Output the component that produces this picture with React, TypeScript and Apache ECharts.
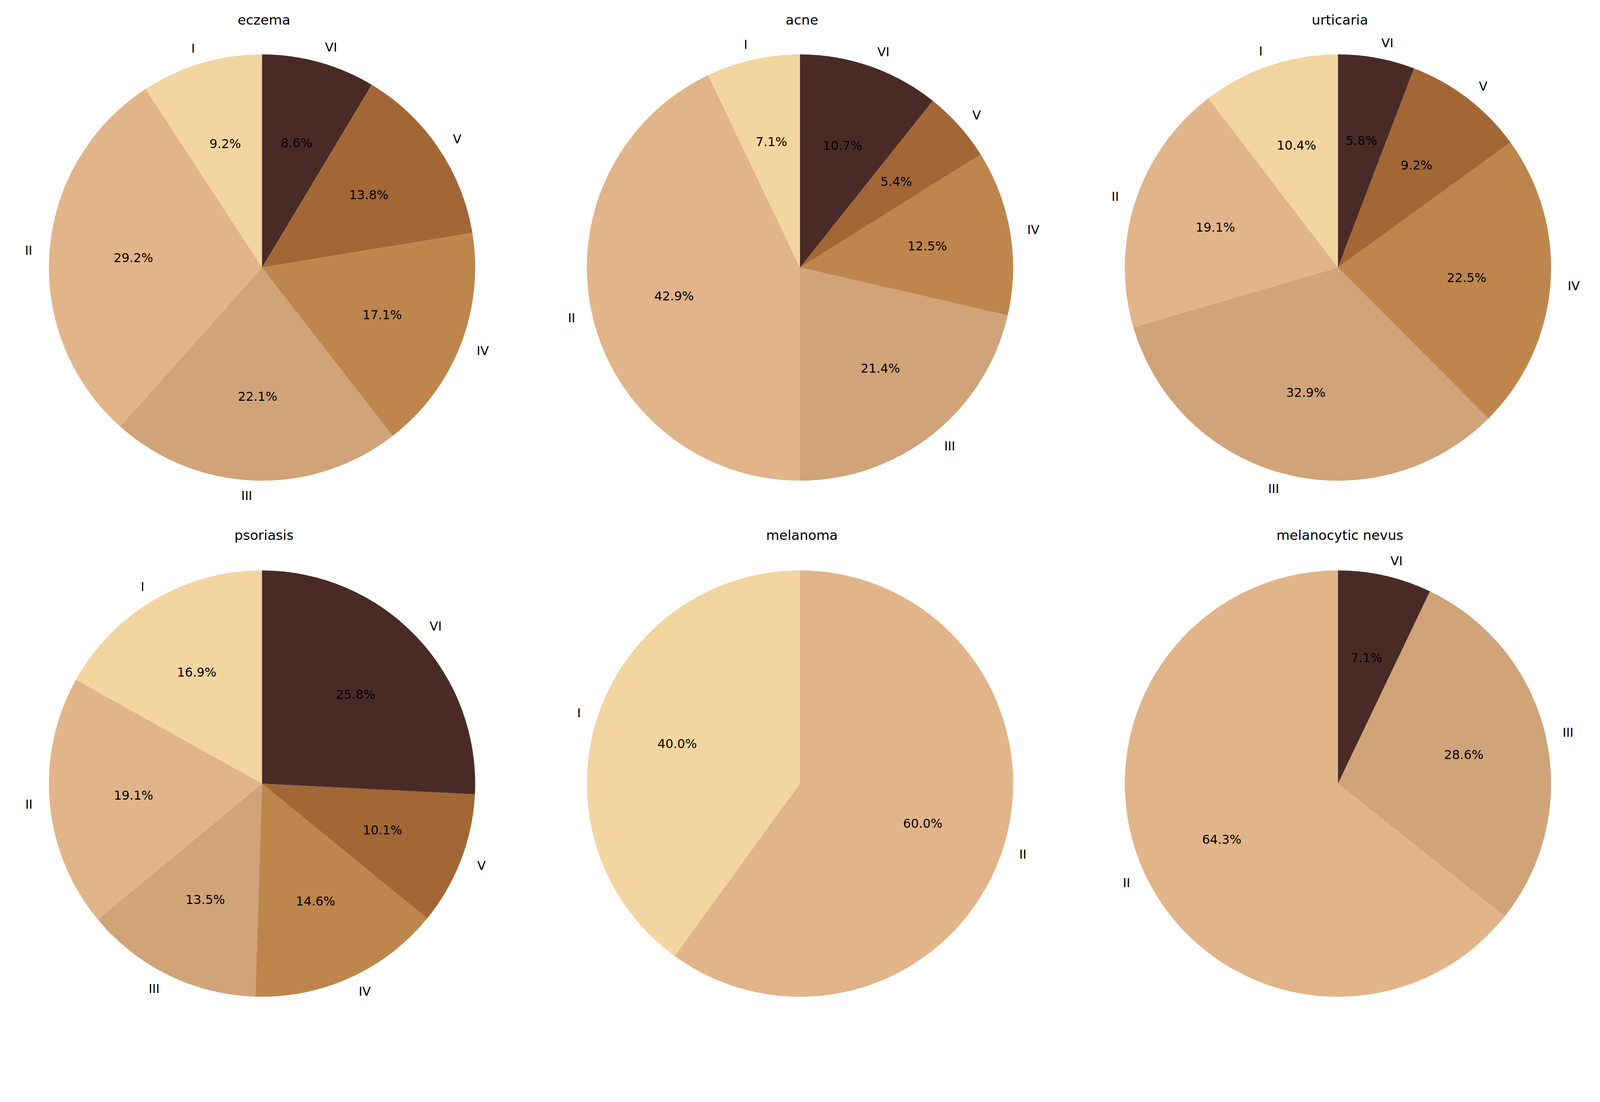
import React, { useEffect, useRef } from 'react';
import * as echarts from 'echarts';

const types = ['I', 'II', 'III', 'IV', 'V', 'VI'];
const colors = ['#F3D5A0', '#E2B489', '#D1A378', '#BE864D', '#A26735', '#4A2A26'];
const diseases = ['eczema', 'acne', 'urticaria', 'psoriasis', 'melanoma', 'melanocytic nevus'];
const eczema = [9.2, 29.2, 22.1, 17.1, 13.8, 8.6];
const acne = [7.1, 42.9, 21.4, 12.5, 5.4, 10.7];
const urticaria = [10.4, 19.1, 32.9, 22.5, 9.2, 5.8];
const psoriasis = [16.9, 19.1, 13.5, 14.6, 10.1, 25.8];
const melanoma = [40.0, 60.0, 0, 0, 0, 0];
const nevus = [0, 64.3, 28.6, 0, 0, 7.1];
const values = [eczema, acne, urticaria, psoriasis, melanoma, nevus];

const W = 4384;
const R = 584;
const colX = [718, 2192, 3666];
const rowY = [733, 2147];
const titleY = [30, 1442];

export default function App() {
    const chartRef = useRef<HTMLDivElement>(null);

    useEffect(() => {
        document.body.style.margin = '0';
        if (!chartRef.current) return;
        const chart = echarts.init(chartRef.current, undefined, { renderer: 'svg' });
        // scale everything to the real viewport width
        const k = chartRef.current.clientWidth / W;

        const series: any[] = [];
        const titles: any[] = [];
        values.forEach((vals, i) => {
            const cx = colX[i % 3] * k;
            const cy = rowY[Math.floor(i / 3)] * k;
            const data = vals
                .map((v, j) => ({ name: types[j], value: v, itemStyle: { color: colors[j] } }))
                .filter(d => d.value > 0);
            titles.push({
                text: diseases[i],
                left: cx,
                top: titleY[Math.floor(i / 3)] * k,
                textAlign: 'center',
                textStyle: { fontFamily: 'DejaVu Sans', fontSize: 37 * k, fontWeight: 'normal', color: '#000' }
            });
            series.push({
                type: 'pie',
                center: [cx, cy],
                radius: [0, R * k],
                startAngle: 90,
                clockwise: false,
                avoidLabelOverlap: false,
                silent: true,
                data,
                label: {
                    show: true,
                    position: 'outside',
                    formatter: '{b}',
                    fontFamily: 'DejaVu Sans',
                    fontSize: 34 * k,
                    color: '#000'
                },
                labelLine: { show: false, length: 42 * k, length2: 0 }
            });
            series.push({
                type: 'pie',
                center: [cx, cy],
                radius: [0, R * 1.2 * k],
                startAngle: 90,
                clockwise: false,
                avoidLabelOverlap: false,
                silent: true,
                z: 5,
                data: data.map(d => ({ ...d, itemStyle: { color: 'rgba(0,0,0,0)' } })),
                label: {
                    show: true,
                    position: 'inner',
                    formatter: (p: any) => p.value.toFixed(1) + '%',
                    fontFamily: 'DejaVu Sans',
                    fontSize: 34 * k,
                    color: '#000'
                },
                labelLine: { show: false }
            });
        });

        chart.setOption({
            animation: false,
            backgroundColor: '#fff',
            title: titles,
            series
        });

        return () => chart.dispose();
    }, []);

    return <div ref={chartRef} style={{ width: '100vw', height: '100vh' }} />;
}
